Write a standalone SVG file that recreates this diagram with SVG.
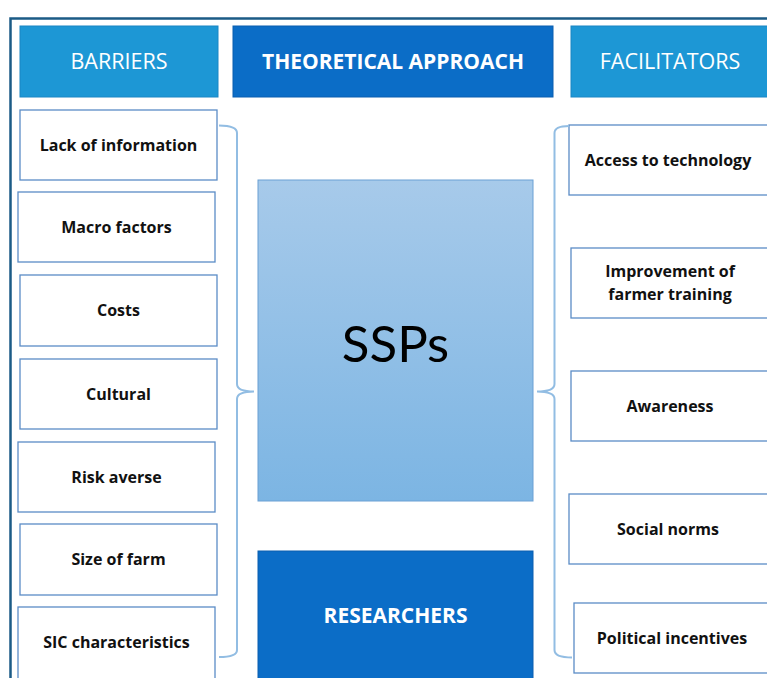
<svg xmlns="http://www.w3.org/2000/svg" width="767" height="678" viewBox="0 0 767 678">
<defs>
<linearGradient id="gSSP" x1="0" y1="0" x2="0" y2="1">
<stop offset="0" stop-color="#a7caea"/>
<stop offset="1" stop-color="#7cb5e3"/>
</linearGradient>
</defs>
<style>
.hdrL{fill:#1d97d5;stroke:#1a86c4;stroke-width:1}
.hdrD{fill:#0b6dc7;stroke:#0a5fb0;stroke-width:1}
.box{fill:#ffffff;stroke:#5b8cc6;stroke-width:1.3}
.lbl{font-family:"Open Sans","Liberation Sans",sans-serif;font-weight:bold;font-size:16px;fill:#111;text-anchor:middle}
.ht{font-family:"Open Sans","Liberation Sans",sans-serif;font-size:21.5px;fill:#ffffff;text-anchor:middle}
.htb{font-family:"Open Sans","Liberation Sans",sans-serif;font-weight:bold;font-size:21px;fill:#ffffff;text-anchor:middle}
.brace{fill:none;stroke:#92bde3;stroke-width:2}
</style>
<rect x="0" y="0" width="767" height="678" fill="#ffffff"/>
<path d="M10.5 680 V18.5 H770" fill="none" stroke="#1b5b86" stroke-width="2.5"/>

<g id="barriers-header"><rect class="hdrL" x="20" y="26" width="198" height="71"/><text class="ht" x="119" y="69">BARRIERS</text></g>
<g id="theoretical-approach"><rect class="hdrD" x="233" y="26" width="320" height="71"/><text class="htb" x="393" y="69">THEORETICAL APPROACH</text></g>
<g id="facilitators-header"><rect class="hdrL" x="571" y="26" width="200" height="71"/><text class="ht" x="670" y="69">FACILITATORS</text></g>

<g id="lack-of-information"><rect class="box" x="20" y="110" width="197" height="70"/><text class="lbl" x="118.5" y="150.5">Lack of information</text></g>
<g id="macro-factors"><rect class="box" x="18" y="192" width="197" height="70"/><text class="lbl" x="116.5" y="232.5">Macro factors</text></g>
<g id="costs"><rect class="box" x="20" y="275" width="197" height="71"/><text class="lbl" x="118.5" y="316">Costs</text></g>
<g id="cultural"><rect class="box" x="20" y="359" width="197" height="70"/><text class="lbl" x="118.5" y="399.5">Cultural</text></g>
<g id="risk-averse"><rect class="box" x="18" y="442" width="197" height="70"/><text class="lbl" x="116.5" y="482.5">Risk averse</text></g>
<g id="size-of-farm"><rect class="box" x="20" y="524" width="197" height="71"/><text class="lbl" x="118.5" y="565">Size of farm</text></g>
<g id="sic-characteristics"><rect class="box" x="18" y="607" width="197" height="75"/><text class="lbl" x="116.5" y="648">SIC characteristics</text></g>

<g id="ssps"><rect x="258" y="180" width="275" height="321" fill="url(#gSSP)" stroke="#6aa0d4" stroke-width="1"/><text x="395.5" y="362" font-family="Lato,'Open Sans',sans-serif" font-size="51" fill="#000" text-anchor="middle">SSPs</text></g>
<g id="researchers"><rect class="hdrD" x="258" y="551" width="275" height="130"/><text class="htb" x="395.5" y="623">RESEARCHERS</text></g>

<g id="access-to-technology"><rect class="box" x="569" y="125" width="202" height="70"/><text class="lbl" x="668" y="165.5">Access to technology</text></g>
<g id="improvement-of-farmer-training"><rect class="box" x="571" y="248" width="200" height="70"/><text class="lbl" x="670" y="277">Improvement of</text><text class="lbl" x="670" y="300">farmer training</text></g>
<g id="awareness"><rect class="box" x="571" y="371" width="200" height="70"/><text class="lbl" x="670" y="411.5">Awareness</text></g>
<g id="social-norms"><rect class="box" x="569" y="494" width="202" height="70"/><text class="lbl" x="668" y="534.5">Social norms</text></g>
<g id="political-incentives"><rect class="box" x="574" y="603" width="197" height="70"/><text class="lbl" x="672" y="643.5">Political incentives</text></g>

<g id="connectors">
<path class="brace" d="M219 125.5 Q237 125.5 237 133 V384 Q237 391.5 254 391.5 Q237 391.5 237 399 V650 Q237 657 219 657"/>
<path class="brace" d="M569 126 Q554.5 126 554.5 133 V384 Q554.5 391.5 537 391.5 Q554.5 391.5 554.5 399 V650 Q554.5 657.5 572 657.5"/>
</g>
</svg>
